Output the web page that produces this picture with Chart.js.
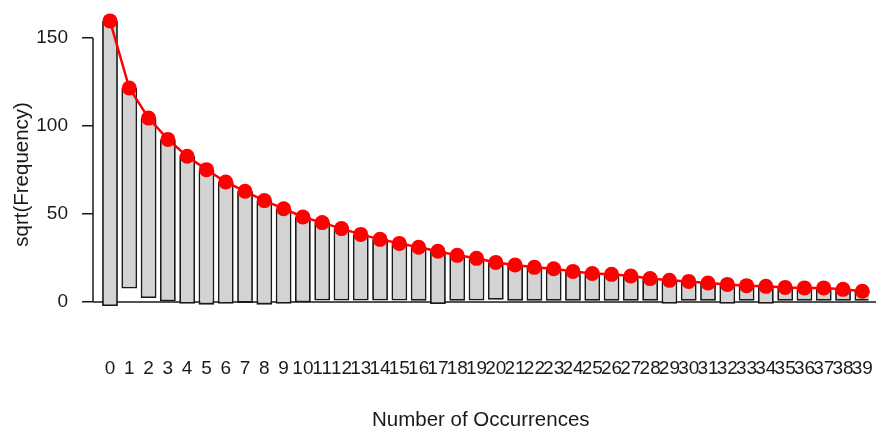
<!DOCTYPE html>
<html>
<head>
<meta charset="utf-8">
<script src="https://cdn.jsdelivr.net/npm/chart.js@4/dist/chart.umd.min.js"></script>
<style>
  body { margin: 0; background: #fff; }
</style>
</head>
<body>
<canvas id="rootogram" width="876" height="428"></canvas>
<script>
// counts 0..39
const categories = [0, 1, 2, 3, 4, 5, 6, 7, 8, 9, 10, 11, 12, 13, 14, 15, 16, 17, 18, 19,
    20, 21, 22, 23, 24, 25, 26, 27, 28, 29, 30, 31, 32, 33, 34, 35, 36, 37, 38, 39];

// fitted sqrt(frequency) - red points, also the bar tops
const expectedSqrt = [159.7, 121.6, 104.5, 92.4, 82.8, 75.2, 68.2, 62.9, 57.6, 53.0,
    48.3, 45.1, 41.7, 38.4, 35.6, 33.3, 31.1, 28.8, 26.5, 24.8,
    22.5, 21.0, 19.7, 18.9, 17.4, 16.2, 15.7, 14.8, 13.3, 12.3,
    11.7, 10.8, 10.0, 9.3, 8.9, 8.3, 8.0, 8.0, 7.2, 6.1];

// observed sqrt(frequency) - bar lengths (hanging from the fitted points)
const observedSqrt = [162.0, 114.0, 102.2, 92.4, 83.8, 76.7, 69.2, 63.4, 59.1, 54.0,
    48.5, 44.3, 40.9, 37.6, 34.8, 32.5, 30.4, 30.0, 25.8, 24.0,
    21.2, 20.3, 19.0, 18.2, 16.7, 15.5, 15.0, 14.1, 12.6, 13.3,
    11.0, 10.1, 11.0, 8.6, 9.9, 7.6, 7.3, 7.3, 6.5, 5.4];

const yTicks = [0, 50, 100, 150];

const ink = '#1a1a1a';
const fontFamily = '"Liberation Sans", Arial, sans-serif';

const hangingBars = categories.map((c, i) => ({ x: c, y: [expectedSqrt[i] - observedSqrt[i], expectedSqrt[i]] }));
const fittedPoints = categories.map((c, i) => ({ x: c, y: expectedSqrt[i] }));

// R style axes: y line only between first and last tick, reference line at 0 across the plot
const rAxes = {
    id: 'rAxes',
    beforeDatasetsDraw(chart) {
        const y = chart.scales.y;
        const c = chart.ctx;
        const y0 = y.getPixelForValue(0);
        c.save();
        c.strokeStyle = ink;
        c.lineWidth = 1.5;
        c.beginPath();
        c.moveTo(chart.chartArea.left, y0);
        c.lineTo(chart.width, y0);
        c.moveTo(chart.chartArea.left, y.getPixelForValue(yTicks[0]));
        c.lineTo(chart.chartArea.left, y.getPixelForValue(yTicks[yTicks.length - 1]));
        c.stroke();
        c.restore();
    },
};

const ctx = document.getElementById('rootogram').getContext('2d');

new Chart(ctx, {
    type: 'bar',
    data: {
        datasets: [
            {
                type: 'line',
                data: fittedPoints,
                borderColor: '#ff0000',
                backgroundColor: '#ff0000',
                borderWidth: 2.5,
                pointRadius: 7.5,
                pointBorderWidth: 0,
                tension: 0,
                clip: false,
                order: 0,
            },
            {
                type: 'bar',
                data: hangingBars,
                backgroundColor: '#d3d3d3',
                borderColor: ink,
                borderWidth: 1.8,
                borderSkipped: false,
                barPercentage: 0.82,
                categoryPercentage: 1,
                order: 1,
            },
        ],
    },
    options: {
        responsive: false,
        animation: false,
        layout: { padding: { top: 11.6, right: 0, left: 0, bottom: 0 } },
        plugins: {
            legend: { display: false },
            tooltip: { enabled: false },
        },
        scales: {
            x: {
                type: 'linear',
                min: -0.881,
                max: 39.32,
                offset: false,
                grid: { display: false, offset: false },
                border: { display: false },
                afterBuildTicks: (scale) => {
                    scale.ticks = categories.map(v => ({ value: v }));
                },
                afterFit: (scale) => {
                    scale.height = 90.8;
                    scale.paddingLeft = 0;
                    scale.paddingRight = 0;
                },
                ticks: {
                    autoSkip: false,
                    maxRotation: 0,
                    minRotation: 0,
                    padding: 12,
                    color: ink,
                    font: { family: fontFamily, size: 19 },
                    callback: (v) => String(v),
                },
                title: {
                    display: true,
                    text: 'Number of Occurrences',
                    color: ink,
                    font: { family: fontFamily, size: 20.5, lineHeight: 1 },
                    padding: { top: 0, bottom: -3 },
                },
            },
            y: {
                min: -20,
                max: 165,
                afterBuildTicks: (scale) => {
                    scale.ticks = yTicks.map(v => ({ value: v }));
                },
                afterFit: (scale) => {
                    scale.width = 93;
                    scale.paddingTop = 0;
                    scale.paddingBottom = 0;
                },
                border: { display: false },
                grid: {
                    drawOnChartArea: false,
                    tickColor: ink,
                    lineWidth: 1.5,
                    tickLength: 11,
                },
                ticks: {
                    padding: 14,
                    color: ink,
                    font: { family: fontFamily, size: 19 },
                },
                title: {
                    display: true,
                    text: 'sqrt(Frequency)',
                    color: ink,
                    font: { family: fontFamily, size: 20.5, lineHeight: 1 },
                    padding: { top: 12, bottom: 0 },
                },
            },
        },
    },
    plugins: [rAxes],
});
</script>
</body>
</html>
